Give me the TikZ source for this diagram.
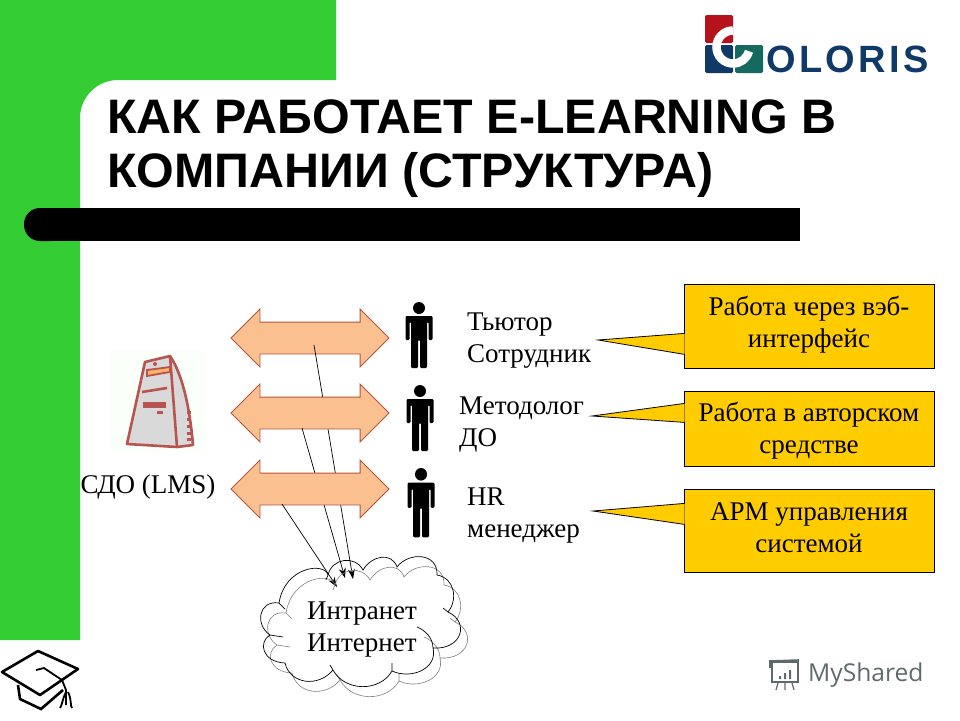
\documentclass[tikz,border=0pt]{standalone}
\usepackage{fontspec}
\setmainfont{Liberation Serif}
\setsansfont{Liberation Sans}
\newfontfamily\logofont[LetterSpace=9]{Liberation Sans}
\newfontfamily\sharedfont{Open Sans}
\usetikzlibrary{shapes.arrows,arrows.meta}
\definecolor{slidegreen}{HTML}{33CC33}
\definecolor{peach}{HTML}{FAC090}
\definecolor{peachline}{HTML}{B5533C}
\definecolor{boxyellow}{HTML}{FFCC00}
\definecolor{navy}{HTML}{0F3A68}
\definecolor{logored}{HTML}{B5121B}
\definecolor{logoteal}{HTML}{16695F}
\definecolor{serverred}{HTML}{B85450}
\definecolor{sharedgray}{HTML}{5F6B6B}
\tikzset{
  dblarrow/.style={double arrow,draw=peachline,fill=peach,line width=0.8pt,minimum height=158pt,
    minimum width=57pt,inner xsep=0pt,inner ysep=15.5pt,double arrow head extend=13pt,
    double arrow tip angle=90},
  lbl/.style={font=\fontsize{27}{32}\selectfont,align=left,inner sep=0pt},
  callbox/.style={rectangle,draw,fill=boxyellow,line width=0.8pt,minimum width=250pt,inner sep=0pt},
  calltext/.style={font=\fontsize{27}{32}\selectfont,align=center,inner sep=0pt},
  calltail/.style={draw,fill=boxyellow,line width=0.8pt},
  link/.style={-{Stealth[length=10pt,width=7pt]},line width=0.7pt},
  man/.pic={
    \fill (0,6) circle (6);
    \fill[rounded corners=1.2pt] (-13.5,14) -- (13.5,14) -- (13.5,38) -- (9.5,38) -- (9.5,20)
      -- (8,20) -- (8,66) -- (1,66) -- (1,38) -- (-1,38) -- (-1,66) -- (-8,66) -- (-8,20)
      -- (-9.5,20) -- (-9.5,38) -- (-13.5,38) -- cycle;
  }
}
\newcommand{\puffs}{
  (279,603) .. controls (285,566) and (325,562) .. (328,575)
  .. controls (332,558) and (355,555) .. (363,570)
  .. controls (372,555) and (392,552) .. (397,567)
  .. controls (408,552) and (438,552) .. (437,575)
  .. controls (455,578) and (458,600) .. (448,612)
  .. controls (470,622) and (462,650) .. (433,648)
  .. controls (438,668) and (412,680) .. (392,671)
  .. controls (380,692) and (345,692) .. (333,670)
  .. controls (318,688) and (290,684) .. (285,663)
  .. controls (262,662) and (258,642) .. (270,635)
  .. controls (255,625) and (258,600) .. (279,603)
  (279,603) -- (285,609) (328,575) -- (326,580) (448,612) -- (443,608)
  (433,648) .. controls (433,638) and (425,630) .. (417,627)
  (392,671) -- (392,663) (333,670) -- (330,665) (270,635) -- (283,637)
}
\begin{document}
\begin{tikzpicture}[x=1pt,y=-1pt]
  \useasboundingbox (0,0) rectangle (960,720);
  % slide frame
  \fill[slidegreen] (0,0) -- (336,0) -- (336,80) -- (118,80) arc (270:180:38) -- (80,640) -- (0,640) -- cycle;
  \fill[rounded corners=16pt] (24,208) rectangle (66,241);
  \fill (50,208) rectangle (800,241);
  \node at (107,149) [anchor=west,inner sep=0pt,align=left,font=\sffamily\bfseries\fontsize{48.4}{54}\selectfont] (title) {КАК РАБОТАЕТ E-LEARNING В\\КОМПАНИИ (СТРУКТУРА)};
  % logo
  \fill[logored,rounded corners=1.5pt] (705,15) rectangle (733,43);
  \fill[navy,rounded corners=1.5pt] (705,45) rectangle (733,73);
  \fill[logoteal,rounded corners=1.5pt] (735,45) rectangle (763,73);
  \draw[white,line width=8.5pt] (733,30.5) arc (-90:-345:16.5);
  \node at (766,59) [anchor=west,inner sep=0pt,text=navy,font=\logofont\bfseries\fontsize{38}{38}\selectfont] (oloris) {OLORIS};
  % server
  \fill[green!2!white] (110,350) rectangle (205,452);
  \draw[serverred,fill=gray!30,line width=2.6pt,line join=round] (145,362) -- (170,356) .. controls (183,375) and (190,410) .. (193,445) -- (177,447) -- (127,444) -- cycle;
  \draw[serverred,line width=2.6pt] (170,356) -- (177,447);
  \draw[serverred,fill=orange!60,line width=1.8pt] (147,370) -- (170,367) -- (170,372) -- (147,376) -- cycle;
  \fill[serverred] (155,364) circle (2);
  \draw[serverred,line width=2.6pt] (142,392) -- (167,388);
  \fill[serverred] (143,402) rectangle (166,408);
  \fill[serverred] (157,410.5) rectangle (163,413.5);
  \foreach \y in {411,418,425,432,438} {\fill[serverred] (187,\y) rectangle (191,\y+3);}
  \node at (148,487) [lbl] (sdo) {СДО (LMS)};
  % arrows and links
  \coordinate (s1) at (314,345);
  \coordinate (s2) at (302,428);
  \coordinate (s3) at (282,504);
  \coordinate (n1) at (353,579);
  \coordinate (n2) at (345,578);
  \coordinate (n3) at (337,587);
  \node at (310,338) [dblarrow] (a1) {};
  \draw[link] (s1) -- (n1);
  \node at (310,413) [dblarrow] (a2) {};
  \draw[link] (s2) -- (n2);
  \node at (310,489) [dblarrow] (a3) {};
  \draw[link] (s3) -- (n3);
  % people
  \pic at (419,302) {man};
  \pic at (420,385) {man};
  \pic[yscale=1.05] at (421,468) {man};
  \node at (467,341) [lbl,anchor=west] (p1) {Тьютор\\Сотрудник};
  \node at (459,425) [lbl,anchor=west] (p2) {Методолог\\ДО};
  \node at (467,516) [lbl,anchor=west] (p3) {HR\\менеджер};
  % cloud
  \draw[gray,line width=0.6pt,xshift=7pt,yshift=-10pt] \puffs;
  \draw[line width=0.7pt] \puffs;
  \node at (307,630) [lbl,anchor=west] (net) {Интранет\\Интернет};
  % callouts
  \node at (809,326) [callbox,minimum height=84pt] (b1) {};
  \node at (809,428.5) [callbox,minimum height=75pt] (b2) {};
  \node at (809,530.5) [callbox,minimum height=83pt] (b3) {};
  \coordinate (t1) at (598,340);
  \coordinate (t2) at (592,416);
  \coordinate (t3) at (593,511);
  \draw[calltail] ([xshift=1pt,yshift=35pt]b1.south west) -- (t1) -- ([xshift=1pt,yshift=14pt]b1.south west);
  \draw[calltail] ([xshift=1pt,yshift=63pt]b2.south west) -- (t2) -- ([xshift=1pt,yshift=44pt]b2.south west);
  \draw[calltail] ([xshift=1pt,yshift=69pt]b3.south west) -- (t3) -- ([xshift=1pt,yshift=48pt]b3.south west);
  \node at (809,325) [calltext] (w1) {Работа через вэб-\\интерфейс};
  \node at (809,431) [calltext] (w2) {Работа в авторском\\средстве};
  \node at (809,528) [calltext] (w3) {АРМ управления\\системой};
  % cap
  \draw[line width=2.6pt,line join=round] (38,651) -- (2,672) -- (40,695) -- (78,669) -- cycle;
  \draw[line width=2.6pt] (18,685) -- (20,699) -- (41,709) -- (63,690);
  \draw[line width=1.8pt] (36,670) -- (44,668) -- (62,680) -- (66,690) -- (66,705);
  \draw[line width=1.8pt] (66,692) .. controls (62,700) and (62,706) .. (60,708) (68,692) .. controls (72,700) and (70,706) .. (72,708);
  % watermark
  \draw[sharedgray,line width=1.6pt] (772,662) rectangle (798,682);
  \draw[sharedgray,line width=1.6pt] (770,668) -- (770,661) -- (799,660);
  \fill[sharedgray] (779,676) rectangle (781,679) (784,673) rectangle (786,679) (789,670) rectangle (791,679);
  \draw[sharedgray,line width=1.2pt] (778,683) -- (776,690) (785,683) -- (785,690) (792,683) -- (794,690);
  \node at (808,675) [anchor=west,inner sep=0pt,text=sharedgray,font=\sharedfont\fontsize{24.6}{27}\selectfont] (shared) {MyShared};
\end{tikzpicture}
\end{document}
